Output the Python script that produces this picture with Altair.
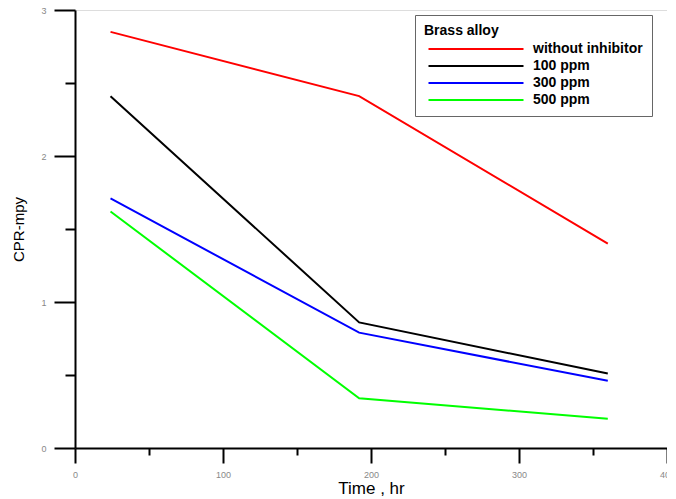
import altair as alt
import pandas as pd

time_hr = [24, 192, 360]
series_names = ["without inhibitor", "100 ppm", "300 ppm", "500 ppm"]
without_inhibitor = [2.85, 2.41, 1.40]
ppm_100 = [2.41, 0.86, 0.51]
ppm_300 = [1.71, 0.79, 0.46]
ppm_500 = [1.62, 0.34, 0.20]
series_colors = ["#ff0000", "#000000", "#0000ff", "#00ff00"]

rows = []
for name, vals in zip(series_names, [without_inhibitor, ppm_100, ppm_300, ppm_500]):
    for t, v in zip(time_hr, vals):
        rows.append({"Time": t, "CPR": v, "Series": name})
df = pd.DataFrame(rows)

x_axis = alt.Axis(
    values=[0, 50, 100, 150, 200, 250, 300, 350, 400],
    labelExpr="datum.value % 100 === 0 ? datum.label : ''",
    tickSize={"condition": {"test": "datum.value % 100 === 0", "value": 15}, "value": 7},
    tickColor="black", tickWidth=2, domainColor="black", domainWidth=2,
    grid=False, labelColor="#888888", labelFontSize=9, labelFont="Liberation Sans",
    labelPadding=7, title="Time , hr", titleFont="Liberation Sans", titleFontSize=17,
    titleFontWeight="normal", titleColor="black", titlePadding=1, labelFlush=False,
)
y_axis = alt.Axis(
    values=[0, 0.5, 1, 1.5, 2, 2.5, 3],
    labelExpr="datum.value % 1 === 0 ? format(datum.value, 'd') : ''",
    tickSize={"condition": {"test": "datum.value % 1 === 0", "value": 21}, "value": 10},
    tickColor="black", tickWidth=2, domainColor="black", domainWidth=2,
    grid=False, labelColor="#888888", labelFontSize=9, labelFont="Liberation Sans",
    labelPadding=8, title="CPR-mpy", titleFont="Liberation Sans", titleFontSize=15,
    titleFontWeight="normal", titleColor="black", titlePadding=14, labelFlush=False,
)

chart = alt.Chart(df).mark_line(strokeWidth=2).encode(
    x=alt.X("Time:Q", scale=alt.Scale(domain=[0, 400], nice=False), axis=x_axis),
    y=alt.Y("CPR:Q", scale=alt.Scale(domain=[0, 3], nice=False), axis=y_axis),
    color=alt.Color(
        "Series:N",
        sort=series_names,
        scale=alt.Scale(domain=series_names, range=series_colors),
        legend=alt.Legend(
            title="Brass alloy", orient="none", legendX=340, legendY=5,
            symbolType="M-9.5,0L9.5,0", symbolSize=100, symbolStrokeWidth=2,
            symbolOffset=45,
            titleFont="Liberation Sans", titleFontSize=14, titleFontWeight="bold",
            titleColor="black", titleAnchor="start", titleAlign="left",
            titlePadding=4,
            labelFont="Liberation Sans", labelFontSize=14, labelFontWeight="bold",
            labelColor="black", strokeColor="#666666", padding=9, rowPadding=3,
            fillColor="white", labelOffset=50,
        ),
    ),
    order=alt.Order("Time:Q"),
).properties(
    width=592, height=438,
    autosize=alt.AutoSizeParams(type="none"),
    padding={"left": 67, "top": 2, "right": 0, "bottom": 49},
).configure_view(stroke="black", strokeWidth=2).configure(background="white")

chart.save("out.html", embed_options={"renderer": "svg", "actions": False})
